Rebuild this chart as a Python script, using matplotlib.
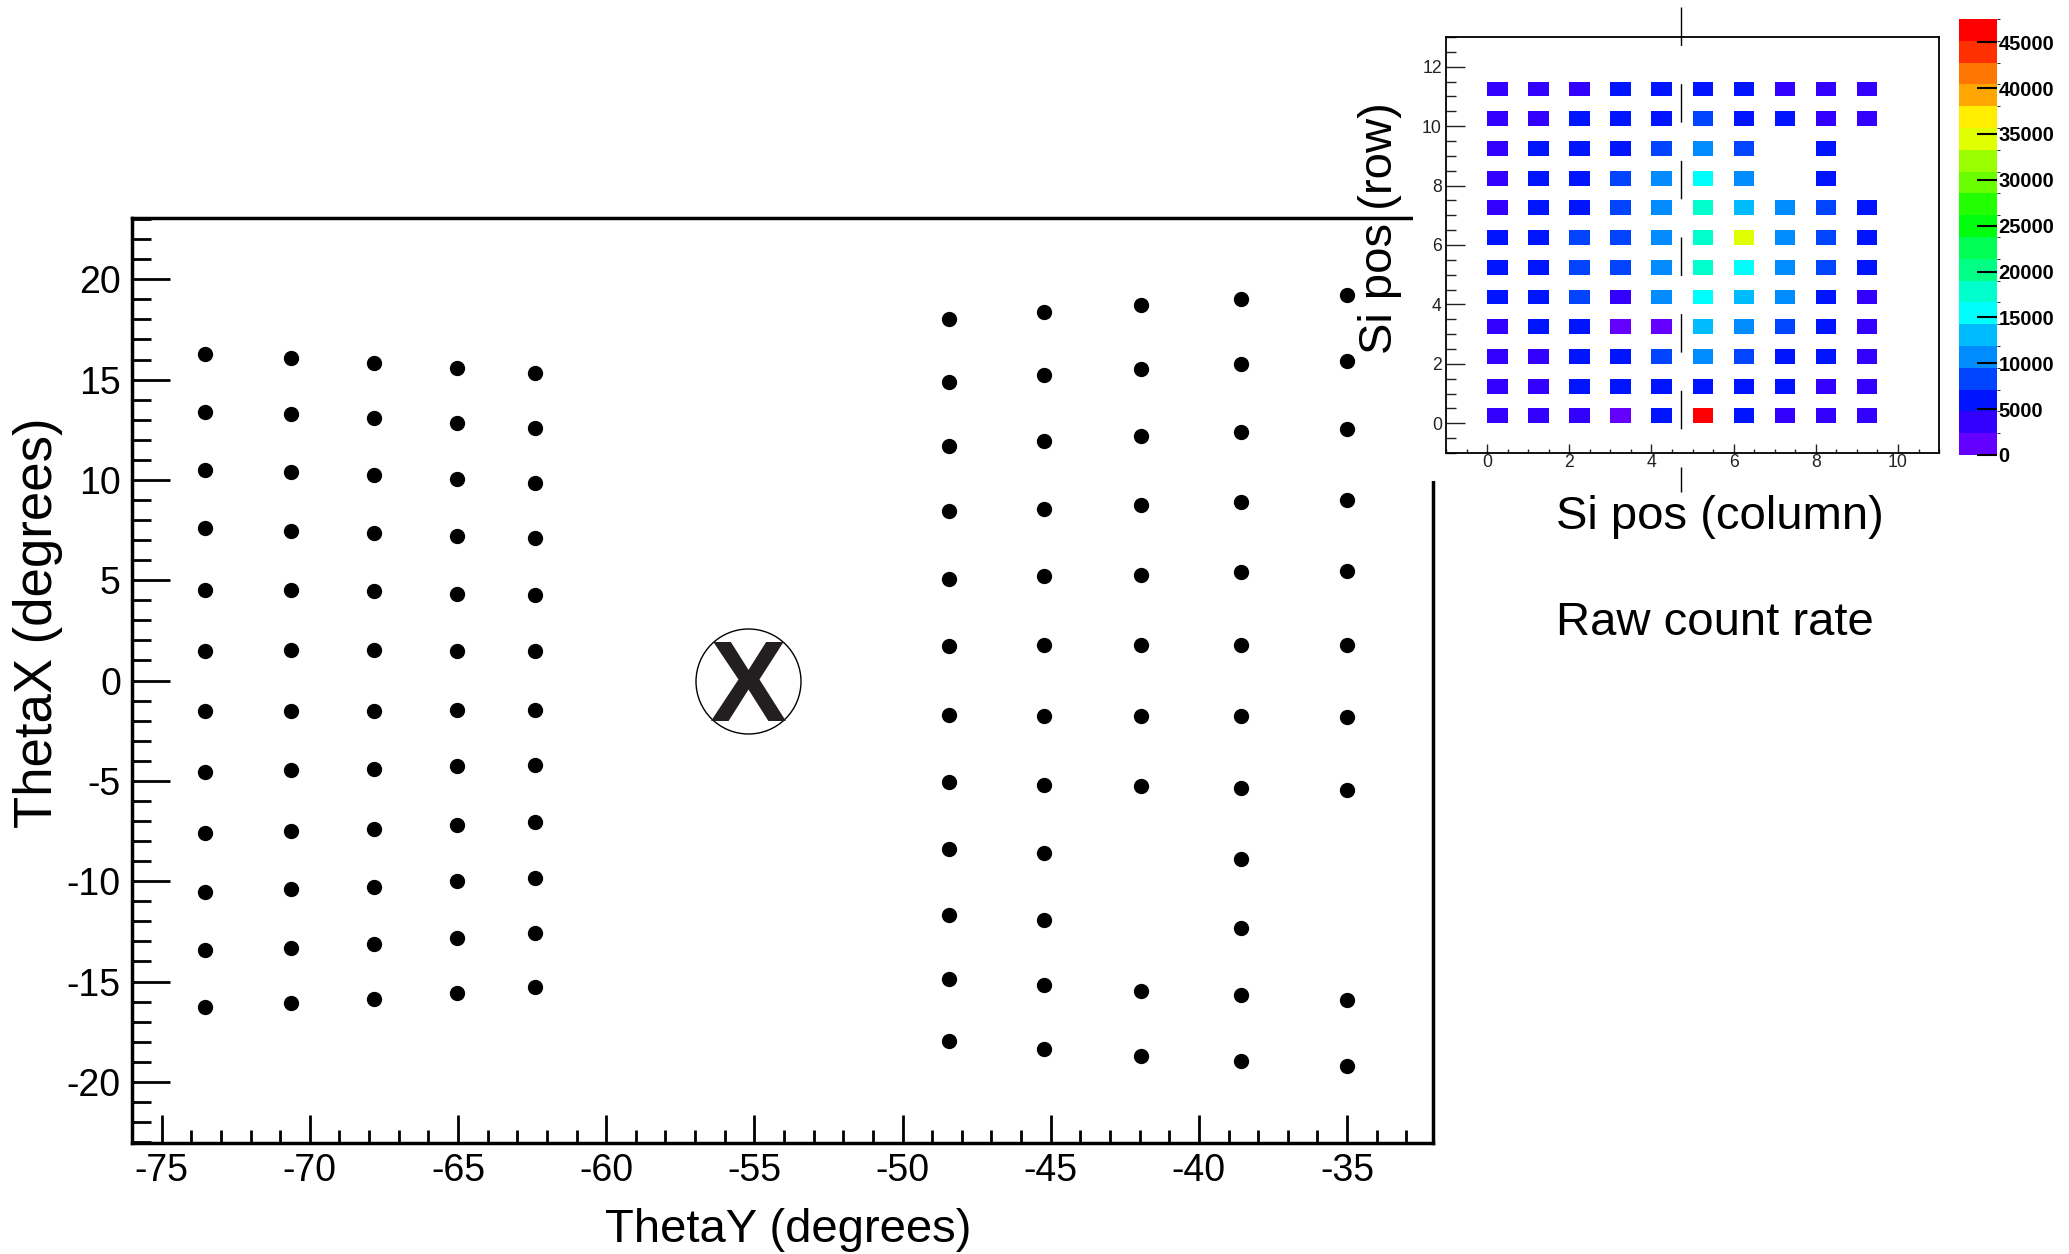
import colorsys
import numpy as np
import matplotlib
matplotlib.use("Agg")
import matplotlib.pyplot as plt
from matplotlib.colors import ListedColormap, BoundaryNorm
from matplotlib.patches import Rectangle
from matplotlib.ticker import MultipleLocator

plt.rcParams['font.family'] = ['Liberation Sans', 'DejaVu Sans']
plt.rcParams['axes.unicode_minus'] = False

#scan points, one ThetaX list per ThetaY column (degrees)
left_theta_y = [-73.54, -70.65, -67.82, -65.04, -62.41]
left_theta_x = [
    [16.26, 13.40, 10.48, 7.58, 4.51, 1.46, -1.52, -4.55, -7.58, -10.54, -13.44, -16.27],
    [16.06, 13.26, 10.40, 7.47, 4.53, 1.50, -1.52, -4.48, -7.51, -10.41, -13.31, -16.07],
    [15.85, 13.07, 10.23, 7.36, 4.44, 1.50, -1.52, -4.41, -7.38, -10.28, -13.11, -15.88],
    [15.56, 12.85, 10.04, 7.21, 4.33, 1.47, -1.45, -4.28, -7.18, -10.01, -12.85, -15.55],
    [15.31, 12.60, 9.87, 7.11, 4.24, 1.45, -1.45, -4.22, -7.05, -9.82, -12.58, -15.28],
]
right_theta_y = [-48.42, -45.24, -41.95, -38.57, -34.99]
right_theta_x = [
    [18.02, 14.90, 11.70, 8.43, 5.07, 1.71, -1.70, -5.06, -8.42, -11.68, -14.88, -17.99],
    [18.37, 15.23, 11.95, 8.56, 5.20, 1.78, -1.75, -5.19, -8.59, -11.93, -15.19, -18.35],
    [18.72, 15.51, 12.18, 8.76, 5.27, 1.78, -1.78, -5.27, -15.49, -18.72],
    [19.01, 15.78, 12.40, 8.89, 5.40, 1.78, -1.78, -5.36, -8.87, -12.35, -15.69, -18.97],
    [19.24, 15.95, 12.53, 9.02, 5.47, 1.78, -1.80, -5.44, -15.93, -19.22],
]

#blocked direction (circled X)
blocked_theta_y = -55.2
blocked_theta_x = 0.0

#raw count rate per Si pixel, row 0 (bottom) .. row 11 (top), columns 0..9
si_rows = list(range(12))
si_columns = list(range(10))
raw_rate = [
    [3600, 3500, 3800, 1900, 6000, 47500, 5900, 3700, 3500, 3600],
    [3700, 3600, 5800, 5900, 6100, 6000, 5900, 5800, 3800, 3700],
    [3600, 3700, 5900, 6000, 8300, 10700, 8200, 6000, 5900, 3800],
    [3700, 5900, 6000, 1800, 1700, 13000, 10600, 8400, 6000, 3700],
    [6000, 6100, 8300, 3900, 10800, 15500, 13100, 10700, 6000, 3800],
    [5900, 6000, 8400, 8300, 10800, 17800, 15600, 10600, 8300, 6000],
    [6000, 6100, 8300, 8400, 10700, 17900, 34500, 10800, 8400, 6100],
    [3700, 6000, 6000, 8300, 10700, 17700, 13200, 10800, 8300, 6000],
    [3600, 6000, 5900, 8300, 10700, 15500, 10800, np.nan, 6000, np.nan],
    [3700, 5900, 6000, 6000, 8400, 10800, 8300, np.nan, 5900, np.nan],
    [3600, 3700, 5900, 6000, 6100, 8300, 6000, 5900, 3800, 3700],
    [3700, 3600, 3800, 6000, 6000, 5900, 6100, 3700, 3600, 3800],
]
rate_max = 47540
colorbar_ticks = [0, 5000, 10000, 15000, 20000, 25000, 30000, 35000, 40000, 45000]

#ROOT style "pretty palette", 20 contour levels
pal_idx = np.array([int((j + 0.99) * 50 / 20) for j in range(20)])
hues = 280 - (pal_idx + 1) * 5.6
cmap = ListedColormap([colorsys.hls_to_rgb(h / 360.0, 0.5, 1.0) for h in hues])
norm = BoundaryNorm(np.linspace(0, rate_max, 21), cmap.N)

fig = plt.figure(figsize=(20.69, 12.54), dpi=100)

#main scan plot
ax = fig.add_axes([0.0638, 0.0885, 0.6288, 0.7376])
for ty, tx in zip(left_theta_y + right_theta_y, left_theta_x + right_theta_x):
    ax.plot([ty] * len(tx), tx, 'o', color='black', ms=10, ls='none')

ax.plot(blocked_theta_y, blocked_theta_x, marker='o', ms=75.6, mfc='none',
        mec='black', mew=1.0, ls='none')
ax.annotate('X', xy=(blocked_theta_y, blocked_theta_x), xytext=(0, -28.8),
            textcoords='offset points', ha='center', va='baseline',
            fontsize=83, fontweight='bold', color='#231f20')

ax.set_xlim(-76, -32.1)
ax.set_ylim(-23.05, 23.05)
ax.xaxis.set_major_locator(MultipleLocator(5))
ax.xaxis.set_minor_locator(MultipleLocator(1))
ax.yaxis.set_major_locator(MultipleLocator(5))
ax.yaxis.set_minor_locator(MultipleLocator(1))
ax.tick_params(which='both', direction='in', top=False, right=False,
               width=2, labelsize=27, colors='black')
ax.tick_params(axis='x', which='major', length=20, pad=7)
ax.tick_params(axis='x', which='minor', length=9.5)
ax.tick_params(axis='y', which='major', length=27, pad=8)
ax.tick_params(axis='y', which='minor', length=14)
for s in ax.spines.values():
    s.set_linewidth(2.5)

fig.text(0.381, 0.0096, 'ThetaY (degrees)', ha='center', va='baseline', fontsize=34)
fig.text(0.0184, 0.503, 'ThetaX (degrees)', rotation=90, ha='center', va='center',
         fontsize=38)

#white card behind the inset
fig.add_artist(Rectangle((0.6829, 0.6164), 0.32, 0.39, transform=fig.transFigure,
                         facecolor='white', edgecolor='none', zorder=5))

#inset: raw count rate map
z = np.full((24, 20), np.nan)
for r in si_rows:
    for c in si_columns:
        z[2 * r, 2 * c] = raw_rate[r][c]
col_edges = np.arange(0, 10.01, 0.5)
row_edges = np.arange(0, 12.01, 0.5)

inset = fig.add_axes([0.6989, 0.6388, 0.2383, 0.3317], zorder=6)
mesh = inset.pcolormesh(col_edges, row_edges, np.ma.masked_invalid(z), cmap=cmap, norm=norm)
inset.set_xlim(-1, 11)
inset.set_ylim(-1, 13)
inset.xaxis.set_major_locator(MultipleLocator(2))
inset.xaxis.set_minor_locator(MultipleLocator(0.5))
inset.yaxis.set_major_locator(MultipleLocator(2))
inset.yaxis.set_minor_locator(MultipleLocator(0.5))
inset.tick_params(which='both', direction='in', top=False, right=False, width=1,
                  labelsize=12.7, colors='#222222')
inset.tick_params(axis='x', which='major', length=6.5, pad=1)
inset.tick_params(axis='x', which='minor', length=3.2)
inset.tick_params(axis='y', which='major', length=13.7, pad=3)
inset.tick_params(axis='y', which='minor', length=7)
for s in inset.spines.values():
    s.set_linewidth(1.3)
inset.plot([4.72, 4.72], [14.0, -2.3], color='black', lw=1, dashes=(27.7, 27.5),
           clip_on=False)

cax = fig.add_axes([0.9468, 0.6372, 0.01837, 0.3477], zorder=6)
cbar = fig.colorbar(mesh, cax=cax, ticks=colorbar_ticks)
cbar.outline.set_visible(False)
cax.tick_params(direction='in', length=14.4, width=1.5, labelsize=14.5, pad=1)
for lbl in cax.get_yticklabels():
    lbl.set_fontweight('bold')

fig.text(0.667, 0.818, 'Si pos (row)', rotation=90, ha='center', va='center',
         fontsize=34, zorder=7)
fig.text(0.7521, 0.578, 'Si pos (column)', ha='left', va='baseline', fontsize=34)
fig.text(0.7521, 0.4936, 'Raw count rate', ha='left', va='baseline', fontsize=34)

fig.savefig('out.png', dpi=100)
